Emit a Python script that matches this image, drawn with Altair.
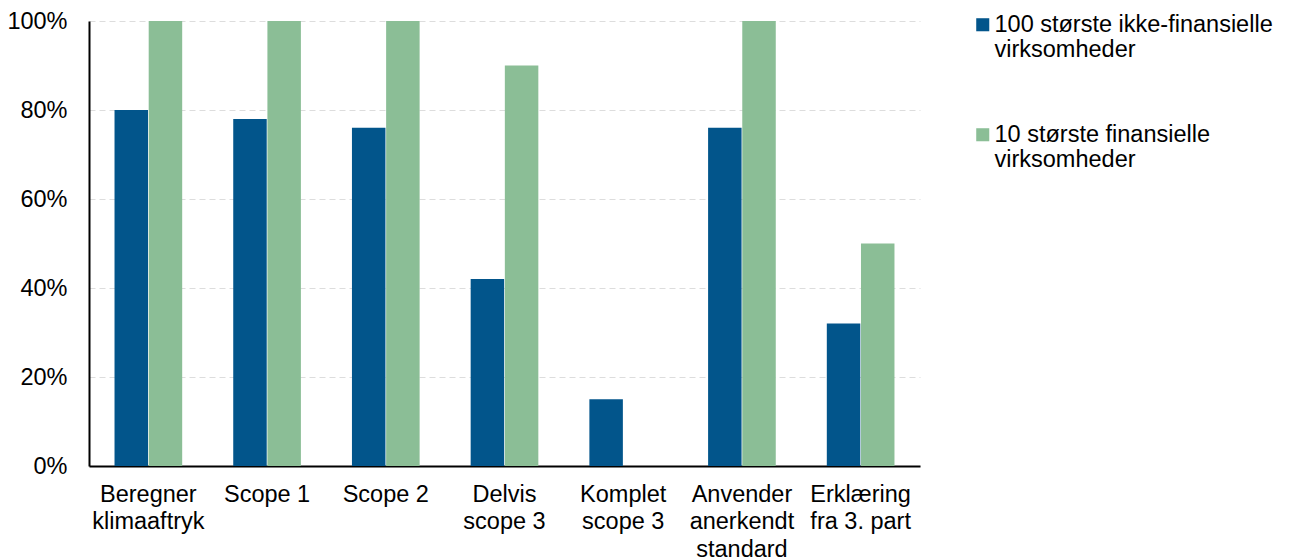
import altair as alt
import pandas as pd

categories = [
    "Beregner\nklimaaftryk",
    "Scope 1",
    "Scope 2",
    "Delvis\nscope 3",
    "Komplet\nscope 3",
    "Anvender\nanerkendt\nstandard",
    "Erklæring\nfra 3. part",
]
series_names = [
    "100 største ikke-finansielle\nvirksomheder",
    "10 største finansielle\nvirksomheder",
]
non_financial = [80, 78, 76, 42, 15, 76, 32]
financial = [100, 100, 100, 90, 0, 100, 50]
colors = ["#02558B", "#8BBE96"]

rows = []
for i, c in enumerate(categories):
    rows.append({"kategori": c, "serie": series_names[0], "andel": non_financial[i]})
    rows.append({"kategori": c, "serie": series_names[1], "andel": financial[i]})
df = pd.DataFrame(rows)

FONT = "Liberation Sans"
FS = 23.5

chart = (
    alt.Chart(df)
    .mark_bar()
    .encode(
        x=alt.X(
            "kategori:N",
            sort=categories,
            scale=alt.Scale(paddingInner=0.43, paddingOuter=0.215),
            axis=alt.Axis(
                title=None,
                labelAngle=0,
                labelExpr="split(datum.value, '\\n')",
                labelFontSize=FS,
                labelColor="#000000",
                labelFont=FONT,
                labelPadding=16,
                labelLineHeight=27.5,
                ticks=False,
                domainColor="#000000",
                domainWidth=2,
                grid=False,
            ),
        ),
        xOffset=alt.XOffset("serie:N", sort=series_names, scale=alt.Scale(paddingInner=0.02)),
        y=alt.Y(
            "andel:Q",
            scale=alt.Scale(domain=[0, 100], nice=False),
            axis=alt.Axis(
                title=None,
                values=[0, 20, 40, 60, 80, 100],
                labelExpr="datum.value + '%'",
                labelFontSize=FS,
                labelColor="#000000",
                labelFont=FONT,
                labelPadding=22,
                ticks=False,
                domainColor="#000000",
                domainWidth=2,
                grid=True,
                gridColor="#DDDDDD",
                gridDash=[6, 4],
                gridWidth=1,
            ),
        ),
        color=alt.Color(
            "serie:N",
            sort=series_names,
            scale=alt.Scale(domain=series_names, range=colors),
            legend=alt.Legend(
                title=None,
                orient="none",
                legendX=882,
                legendY=-8,
                symbolType="square",
                symbolSize=170,
                symbolStrokeWidth=0,
                symbolOpacity=1,
                labelExpr="split(datum.value, '\\n')",
                labelFontSize=FS,
                labelFont=FONT,
                labelColor="#000000",
                labelLimit=400,
                labelBaseline="middle",
                labelOffset=0,
                rowPadding=60,
            ),
        ),
    )
    .properties(
        width=831,
        height=445,
        padding={"left": 81, "top": 13, "right": 360, "bottom": 94},
        autosize=alt.AutoSizeParams(type="none"),
        background="#FFFFFF",
    )
    .configure_view(strokeWidth=0)
)

chart.save("out.html", embed_options={"renderer": "svg", "actions": False})
